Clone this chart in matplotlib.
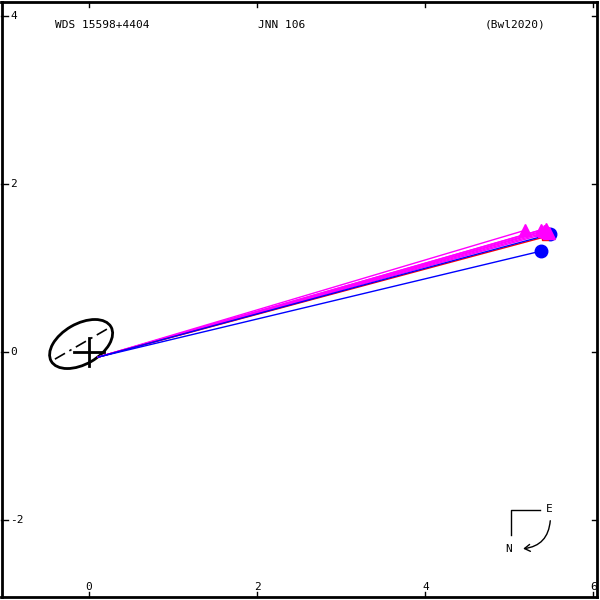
import numpy as np
import matplotlib
matplotlib.use("Agg")
import matplotlib.pyplot as plt
from matplotlib.patches import Ellipse, FancyArrowPatch

# observations (x, y) and colours
obs_x = [5.48, 5.37, 5.42, 5.19, 5.38, 5.41, 5.43, 5.45, 5.47, 5.44]
obs_y = [1.40, 1.20, 1.37, 1.45, 1.455, 1.445, 1.44, 1.43, 1.42, 1.47]
obs_col = ["blue", "blue", "red"] + ["magenta"] * 7
obs_mark = ["o", "o", "s"] + ["^"] * 7
start = (0.11, -0.06)

# error ellipse of the primary
ell_x, ell_y = -0.095, 0.095
ell_a, ell_b, ell_ang = 0.41, 0.24, 30

xticks = [0, 2, 4, 6]
yticks = [-2, 0, 2, 4]

X0, X1 = -1.042, 6.042
Y0, Y1 = -2.917, 4.173
font = dict(family="DejaVu Sans Mono", fontsize=8)

fig = plt.figure(figsize=(6, 6), dpi=100)
ax = fig.add_axes([0.0025, 0.005, 0.9925, 0.9925])
ax.set_xlim(X0, X1)
ax.set_ylim(Y0, Y1)

# lines: magenta first so the red/blue ones stay visible at the band's edge
for x, y, c in list(zip(obs_x, obs_y, obs_col))[::-1]:
    ax.plot([start[0], x], [start[1], y], color=c, lw=1)
for x, y, c, m in zip(obs_x, obs_y, obs_col, obs_mark):
    ms = 5 if m == "s" else 9
    ax.plot(x, y, marker=m, color=c, ms=ms, mec=c, ls="none")

ax.add_patch(Ellipse((ell_x, ell_y), 2 * ell_a, 2 * ell_b, angle=ell_ang,
                     fill=False, ec="black", lw=2))
t = np.radians(ell_ang)
ax.plot([ell_x - 0.36 * np.cos(t), ell_x + 0.36 * np.cos(t)],
        [ell_y - 0.36 * np.sin(t), ell_y + 0.36 * np.sin(t)],
        color="black", lw=1.2, ls=(0, (7, 3, 1.5, 3)))
ax.plot([-0.18, 0.18], [0, 0], color="black", lw=2)
ax.plot([0, 0], [-0.17, 0.17], color="black", lw=2)

# header
ax.text(0.169, 0.961, "WDS 15598+4404", transform=ax.transAxes, ha="center",
        va="center", **font)
ax.text(0.47, 0.961, "JNN 106", transform=ax.transAxes, ha="center",
        va="center", **font)
ax.text(0.863, 0.961, "(Bwl2020)", transform=ax.transAxes, ha="center",
        va="center", **font)

# compass
ax.plot([5.369, 5.024, 5.024], [-1.881, -1.881, -2.179], color="black", lw=1)
ax.text(5.476, -1.869, "E", ha="center", va="center", **font)
ax.text(4.988, -2.345, "N", ha="center", va="center", **font)
ax.add_patch(FancyArrowPatch((5.488, -1.976), (5.131, -2.345),
                             connectionstyle="arc3,rad=-0.45",
                             arrowstyle="->,head_length=4,head_width=2.5",
                             color="black", lw=1))

# ticks and labels
ax.set_xticks([])
ax.set_yticks([])
for s in ax.spines.values():
    s.set_linewidth(2)
for xt in xticks:
    ax.plot([xt, xt], [Y1, Y1 - 0.06], color="black", lw=1, clip_on=False)
    ax.plot([xt, xt], [Y0, Y0 + 0.06], color="black", lw=1, clip_on=False)
    ax.text(xt, -2.80, str(xt), ha="center", va="center", **font)
for yt in yticks:
    ax.plot([X0, X0 + 0.08], [yt, yt], color="black", lw=1, clip_on=False)
    ax.plot([X1, X1 - 0.06], [yt, yt], color="black", lw=1, clip_on=False)
    ax.text(-0.94, yt, str(yt), ha="left", va="center", **font)

fig.savefig("out.png", dpi=100)
